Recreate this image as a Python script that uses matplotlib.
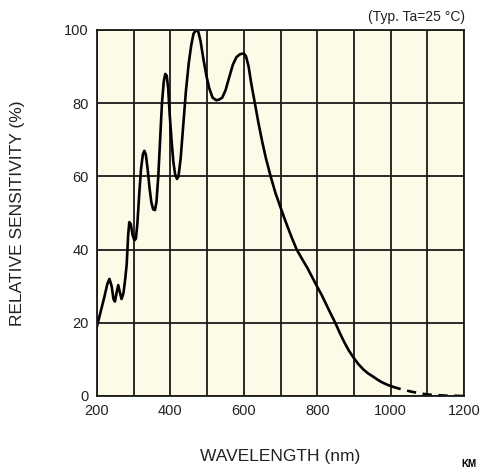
import matplotlib
matplotlib.use("Agg")
import matplotlib.pyplot as plt

plt.rcParams['font.family'] = ['Liberation Sans', 'DejaVu Sans']

# Relative sensitivity curve (solid part)
wavelength = [200, 210, 220, 228, 234, 240, 245, 249, 253, 258, 262, 267, 272, 277,
              281, 285, 288, 292, 297, 302, 306, 310, 315, 320, 325, 329, 333, 338,
              343, 348, 353, 358, 362, 367, 372, 377, 382, 386, 390, 394, 398, 403,
              408, 413, 418, 422, 428, 435, 442, 450, 457, 463, 470, 476, 482, 490,
              498, 506, 515, 525, 533, 541, 550, 560, 570, 580, 590, 600, 606, 613,
              620, 630, 640, 650, 660, 673, 686, 700, 710, 720, 730, 744, 760, 773,
              787, 800, 812, 823, 836, 849, 861, 873, 886, 900, 912, 925, 938, 952,
              965, 975, 990, 1003]
sensitivity = [19, 23, 27, 30.5, 32, 30, 26.5, 25.8, 28, 30.3, 28.5, 26.5, 28, 32,
               36, 44, 47.5, 47, 44, 42.5, 43, 47, 55, 62, 66, 67, 66, 62,
               57, 53, 51, 50.8, 53, 60, 70, 80, 86, 88, 87.5, 84, 77, 70,
               64, 60.5, 59.3, 60, 65, 74, 83, 91, 96, 99, 100, 99.5, 97, 92,
               87.5, 84, 81.5, 80.8, 81, 81.5, 83.5, 87, 90.5, 92.6, 93.4, 93.6, 92.8, 90,
               85.5, 80, 74.5, 69.5, 65, 60, 55.5, 51.5, 48.7, 46, 43.4, 40, 37.2, 35,
               32.3, 29.8, 27.6, 25.3, 22.6, 20, 17.3, 14.8, 12.4, 10.3, 8.7, 7.3, 6.2, 5.3,
               4.4, 3.8, 3.1, 2.6]

# Extrapolated tail (dashed)
tail_wavelength = [1003, 1030, 1060, 1100, 1150, 1200]
tail_sensitivity = [2.6, 1.8, 1.1, 0.4, 0.1, 0]

x_ticks = [200, 400, 600, 800, 1000, 1200]
y_ticks = [0, 20, 40, 60, 80, 100]

fig = plt.figure(figsize=(4.8, 4.73), dpi=100)
ax = fig.add_axes([0.202, 0.1628, 0.765, 0.7738])
ax.set_facecolor('#fefae8')

ax.set_xlim(200, 1200)
ax.set_ylim(0, 100)
ax.set_xticks(range(200, 1201, 100))
ax.set_xticklabels([str(v) if v in x_ticks else '' for v in range(200, 1201, 100)])
ax.set_yticks(y_ticks)
ax.grid(True, color='#1a1a1a', linewidth=1.3)
ax.set_axisbelow(True)
ax.tick_params(length=0, labelsize=10.5, pad=6, colors='#222222')

for s in ax.spines.values():
    s.set_color('#1a1a1a')
    s.set_linewidth(1.3)

ax.plot(wavelength, sensitivity, color='black', linewidth=1.9, solid_joinstyle='round')
ax.plot(tail_wavelength, tail_sensitivity, color='black', linewidth=1.9,
        linestyle=(0, (3.5, 2.5)))

ax.set_xlabel('WAVELENGTH (nm)', fontsize=12.5, labelpad=22, color='#222222')
ax.set_ylabel('RELATIVE SENSITIVITY (%)', fontsize=12.5, labelpad=28, color='#222222')

fig.text(0.969, 0.965, '(Typ. Ta=25 \u00b0C)', ha='right', va='center', fontsize=10,
         color='#222222')
fig.text(0.962, 0.018, 'KM', ha='left', va='center', fontsize=7, fontweight='bold')

fig.savefig('out.png', dpi=100)
